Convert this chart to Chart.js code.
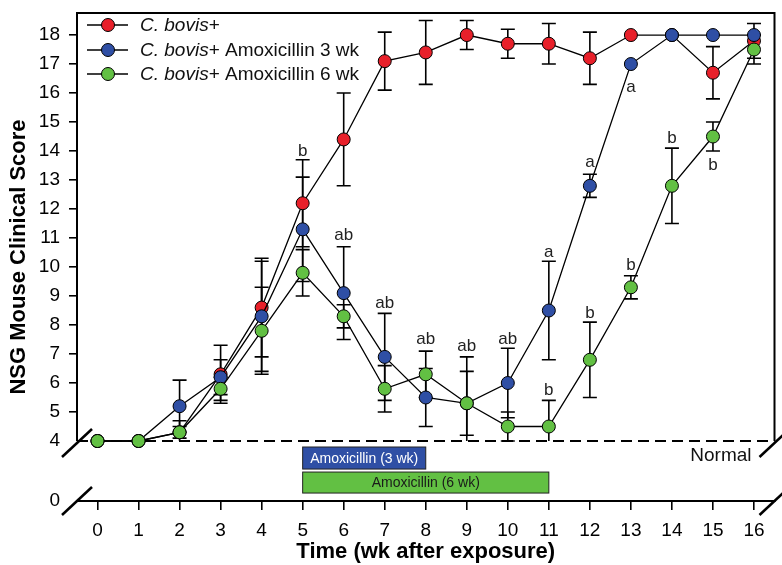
<!DOCTYPE html>
<html>
<head>
<meta charset="utf-8">
<script src="https://cdn.jsdelivr.net/npm/chart.js@4.4.1/dist/chart.umd.min.js"></script>
<style>
  html, body { margin: 0; padding: 0; background: #fff; }
</style>
</head>
<body>
<canvas id="chart" width="782" height="565"></canvas>
<script>
// Weeks after exposure and y tick values (axis broken between 0 and 4)
const weeks = [0, 1, 2, 3, 4, 5, 6, 7, 8, 9, 10, 11, 12, 13, 14, 15, 16];
const yTicks = [0, 4, 5, 6, 7, 8, 9, 10, 11, 12, 13, 14, 15, 16, 17, 18];

// Mean clinical score and SE per group
const bovis    = [4, 4, 4.3, 6.3, 8.6, 12.2, 14.4, 17.1, 17.4, 18, 17.7, 17.7, 17.2, 18, 18, 16.7, 17.8];
const bovisErr = [0, 0, 0.2, 1.0, 1.7, 1.5, 1.6, 1.0, 1.1, 0.5, 0.5, 0.7, 0.9, 0, 0, 0.9, 0.6];
const amox3    = [4, 4, 5.2, 6.2, 8.3, 11.3, 9.1, 6.9, 5.5, 5.3, 6.0, 8.5, 12.8, 17.0, 18, 18, 18];
const amox3Err = [0, 0, 0.9, 0.6, 1.9, 1.8, 1.6, 1.5, 1.0, 1.1, 1.2, 1.7, 0.4, 0, 0, 0, 0];
const amox6    = [4, 4, 4.3, 5.8, 7.8, 9.8, 8.3, 5.8, 6.3, 5.3, 4.5, 4.5, 6.8, 9.3, 12.8, 14.5, 17.5];
const amox6Err = [0, 0, 0.4, 0.4, 1.5, 0.8, 0.4, 0.8, 0.8, 1.6, 0.5, 0.9, 1.3, 0.4, 1.3, 0.5, 0.5];

const seriesNames = ['C. bovis+', 'C. bovis+ Amoxicillin 3 wk', 'C. bovis+ Amoxicillin 6 wk'];

// Significance letters (week, score, text)
const letterWeeks  = [5, 6, 7, 8, 9, 10, 11, 11, 12, 12, 13, 13, 14, 15];
const letterScores = [14.0, 11.1, 8.75, 7.5, 7.25, 7.5, 10.5, 5.75, 13.6, 8.4, 16.2, 10.05, 14.45, 13.5];
const letterTexts  = ['b', 'ab', 'ab', 'ab', 'ab', 'ab', 'a', 'b', 'a', 'b', 'a', 'b', 'b', 'b'];

// Treatment periods
const treatLabels = ['Amoxicillin (3 wk)', 'Amoxicillin (6 wk)'];
const treatStart  = [5, 5];
const treatEnd    = [8, 11];

const FONT = "'Liberation Sans', Arial, sans-serif";
const RED = '#e8202a', BLUE = '#2f4fa5', GREEN = '#62c043';
const colors = [RED, BLUE, GREEN];
const values = [bovis, amox3, amox6];
const errors = [bovisErr, amox3Err, amox6Err];

// escala lineal con corte: 0-4 comprimido abajo
const BREAK = 4;
const LOW_FRAC = 60 / 488;
class BrokenLinearScale extends Chart.LinearScale {
  getPixelForValue(value) {
    if (value === null || isNaN(value)) return NaN;
    const d = value <= BREAK
      ? (value / BREAK) * LOW_FRAC
      : LOW_FRAC + (value - BREAK) / (this.max - BREAK) * (1 - LOW_FRAC);
    return this.getPixelForDecimal(d);
  }
  getValueForPixel(pixel) {
    const d = this.getDecimalForPixel(pixel);
    return d <= LOW_FRAC ? d / LOW_FRAC * BREAK
      : BREAK + (d - LOW_FRAC) / (1 - LOW_FRAC) * (this.max - BREAK);
  }
}
BrokenLinearScale.id = 'brokenLinear';
BrokenLinearScale.defaults = Chart.LinearScale.defaults;
Chart.register(BrokenLinearScale);

function slash(ctx, cx, cy) {
  ctx.beginPath();
  ctx.moveTo(cx - 15, cy + 14);
  ctx.lineTo(cx + 15, cy - 14);
  ctx.stroke();
}

const deco = {
  id: 'deco',
  beforeDatasetsDraw(chart) {
    const { ctx, chartArea: a, scales: { x, y } } = chart;
    const y4 = y.getPixelForValue(BREAK);
    ctx.save();
    // Normal line
    ctx.strokeStyle = '#000';
    ctx.lineWidth = 2;
    ctx.setLineDash([11, 6]);
    ctx.beginPath();
    ctx.moveTo(a.left, y4);
    ctx.lineTo(a.right, y4);
    ctx.stroke();
    ctx.setLineDash([]);
    // error bars
    ctx.lineWidth = 1.6;
    values.forEach((vals, s) => {
      vals.forEach((v, i) => {
        const e = errors[s][i];
        if (!e) return;
        const px = x.getPixelForValue(weeks[i]);
        const hi = y.getPixelForValue(v + e);
        const lo = y.getPixelForValue(Math.max(BREAK, v - e));
        ctx.beginPath();
        ctx.moveTo(px, hi); ctx.lineTo(px, lo);
        ctx.moveTo(px - 7, hi); ctx.lineTo(px + 7, hi);
        if (v - e >= BREAK) { ctx.moveTo(px - 7, lo); ctx.lineTo(px + 7, lo); }
        ctx.stroke();
      });
    });
    ctx.restore();
  },
  afterDatasetsDraw(chart) {
    const { ctx, chartArea: a, scales: { x, y } } = chart;
    const y4 = y.getPixelForValue(BREAK);
    ctx.save();

    // letters
    ctx.fillStyle = '#222';
    ctx.font = '17px ' + FONT;
    ctx.textAlign = 'center';
    ctx.textBaseline = 'middle';
    letterTexts.forEach((t, i) => {
      ctx.fillText(t, x.getPixelForValue(letterWeeks[i]), y.getPixelForValue(letterScores[i]));
    });

    // treatment boxes
    const bands = [[3.6, 2.13], [1.93, 0.53]];
    const fills = [BLUE, GREEN];
    const txt = ['#fff', '#1a1a1a'];
    ctx.font = '14px ' + FONT;
    treatLabels.forEach((lab, i) => {
      const x0 = x.getPixelForValue(treatStart[i]);
      const x1 = x.getPixelForValue(treatEnd[i]);
      const y0 = y.getPixelForValue(bands[i][0]);
      const y1 = y.getPixelForValue(bands[i][1]);
      ctx.fillStyle = fills[i];
      ctx.fillRect(x0, y0, x1 - x0, y1 - y0);
      ctx.strokeStyle = '#222';
      ctx.lineWidth = 1;
      ctx.strokeRect(x0, y0, x1 - x0, y1 - y0);
      ctx.fillStyle = txt[i];
      ctx.fillText(lab, (x0 + x1) / 2, (y0 + y1) / 2 + 1);
    });

    // frame
    ctx.strokeStyle = '#000';
    ctx.lineWidth = 2;
    ctx.beginPath();
    ctx.moveTo(a.left, y4);
    ctx.lineTo(a.left, a.top);
    ctx.lineTo(a.right, a.top);
    ctx.lineTo(a.right, y4);
    ctx.stroke();
    ctx.lineWidth = 2.5;
    slash(ctx, a.left, y4 + 2);
    slash(ctx, a.right, y4 + 2);
    slash(ctx, a.left, a.bottom);
    slash(ctx, a.right, a.bottom);

    // Normal
    ctx.fillStyle = '#111';
    ctx.font = '19px ' + FONT;
    ctx.textAlign = 'right';
    ctx.fillText('Normal', a.right - 23, y4 + 15);

    // legend
    ctx.textAlign = 'left';
    const rows = [a.top + 12, a.top + 37, a.top + 61];
    seriesNames.forEach((name, i) => {
      const ry = rows[i];
      ctx.strokeStyle = '#000';
      ctx.lineWidth = 1.5;
      ctx.beginPath();
      ctx.moveTo(87, ry); ctx.lineTo(128, ry);
      ctx.stroke();
      ctx.beginPath();
      ctx.arc(108, ry, 6.5, 0, Math.PI * 2);
      ctx.fillStyle = colors[i];
      ctx.fill();
      ctx.lineWidth = 1;
      ctx.stroke();
      const ital = 'C. bovis';
      const rest = name.slice(ital.length);
      ctx.fillStyle = '#111';
      ctx.font = 'italic 19px ' + FONT;
      ctx.fillText(ital, 140, ry + 1);
      const w = ctx.measureText(ital).width;
      ctx.font = '19px ' + FONT;
      ctx.fillText(rest, 140 + w, ry + 1);
    });
    ctx.restore();
  }
};

const orders = [3, 2, 1];
const datasets = values.map((vals, s) => ({
  label: seriesNames[s],
  data: weeks.map((w, i) => ({ x: w, y: vals[i] })),
  borderColor: '#000',
  borderWidth: 1.3,
  pointBackgroundColor: colors[s],
  pointBorderColor: '#000',
  pointBorderWidth: 1,
  pointRadius: 6.5,
  tension: 0,
  order: orders[s]
}));

new Chart(document.getElementById('chart'), {
  type: 'line',
  data: { datasets },
  options: {
    responsive: false,
    animation: false,
    devicePixelRatio: 1,
    layout: { padding: { top: 13, right: 7, left: 0, bottom: 0 } },
    plugins: { legend: { display: false }, tooltip: { enabled: false } },
    scales: {
      x: {
        type: 'linear', min: -0.5, max: 16.5,
        afterBuildTicks: s => { s.ticks = weeks.map(v => ({ value: v })); },
        afterFit: s => { s.height = 64; s.paddingLeft = 0; s.paddingRight = 0; },
        ticks: { color: '#000', font: { family: FONT, size: 19 }, padding: 9, maxRotation: 0, autoSkip: false },
        grid: { drawOnChartArea: false, tickLength: 9, color: '#000', lineWidth: 1.6 },
        border: { display: true, color: '#000', width: 2 },
        title: { display: true, text: 'Time (wk after exposure)', color: '#000',
          font: { family: FONT, size: 22, weight: 'bold' }, padding: { top: 0, bottom: 0 } }
      },
      y: {
        type: 'brokenLinear', min: 0, max: 18.76,
        afterBuildTicks: s => { s.ticks = yTicks.map(v => ({ value: v })); },
        afterFit: s => { s.width = 77; s.paddingTop = 0; s.paddingBottom = 0; },
        ticks: { color: '#000', font: { family: FONT, size: 19 }, padding: 9, callback: v => String(v) },
        grid: { drawOnChartArea: false, tickLength: 8, lineWidth: 1.6,
          color: c => (c.tick && (c.tick.value === 0 || c.tick.value === 4)) ? 'rgba(0,0,0,0)' : '#000' },
        border: { display: false },
        title: { display: true, text: 'NSG Mouse Clinical Score', color: '#000',
          font: { family: FONT, size: 22, weight: 'bold' }, padding: { top: 6, bottom: 0 } }
      }
    }
  },
  plugins: [deco]
});
</script>
</body>
</html>
